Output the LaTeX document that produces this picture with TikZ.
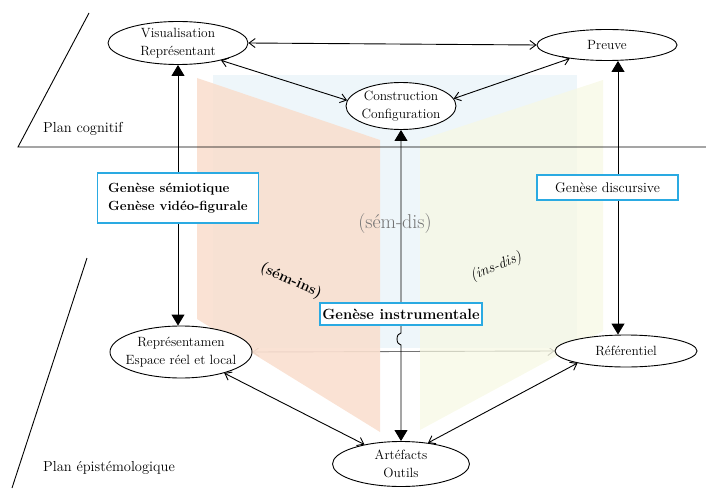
\documentclass[tikz,border=0pt]{standalone}
\usepackage{xcolor}
\definecolor{peach}{HTML}{F9DFCF}
\definecolor{paleblue}{HTML}{EEF6FA}
\definecolor{paleyellow}{HTML}{F7F8E2}
\definecolor{boxcyan}{HTML}{2AAAE2}
\usetikzlibrary{arrows.meta,shapes.geometric,backgrounds}

\begin{document}
\begin{tikzpicture}[x=1pt, y=1pt,
    every node/.style={font=\fontsize{13.4}{17.5}\selectfont},
    pole/.style={draw, ellipse, fill=white, line width=0.9pt, align=center,
                 inner sep=0pt},
    genese/.style={draw=boxcyan, fill=white, line width=1.4pt, inner sep=0pt},
    plan/.style={font=\fontsize{14.5}{17}\selectfont, anchor=west, inner sep=0pt},
    dbl/.style={{Straight Barb[length=6pt,width=9pt]}-{Straight Barb[length=6pt,width=9pt]},
                line width=0.9pt},
    faint/.style={dbl, draw=black!55},
    tri/.style={{Triangle[length=11pt,width=13pt]}-{Triangle[length=11pt,width=13pt]},
                line width=0.9pt}]
  \useasboundingbox (0,0) rectangle (706,488);
  % plans
  \draw[line width=0.9pt] (89,475) -- (18,341) -- (706,341);
  \draw[line width=0.9pt] (87,230) -- (12,0);
  \node[plan] (cog) at (43,359) {Plan cognitif};
  \node[plan] (epi) at (43,20) {Plan épistémologique};
  % poles
  \node[pole, minimum width=140pt, minimum height=43pt] (vis) at (178,445) {Visualisation\\Représentant};
  \node[pole, minimum width=110pt, minimum height=47pt, inner xsep=-4pt] (cons) at (401,382) {Construction\\Configuration};
  \node[pole, minimum width=140pt, minimum height=31pt] (preuve) at (607,443) {Preuve};
  \node[pole, minimum width=142pt, minimum height=52pt, inner xsep=-8pt] (rep) at (181,136) {Représentamen\\Espace réel et local};
  \node[pole, minimum width=142pt, minimum height=32pt] (ref) at (626,137) {Référentiel};
  \node[pole, minimum width=137pt, minimum height=45pt] (art) at (401,24) {Artéfacts\\Outils};
  \coordinate (xr) at (618,0);
  \coordinate (hop) at (401,143);
  \draw[dbl] (vis.east) -- (preuve.west);
  \draw[dbl] (vis.-22) -- (cons.174);
  \draw[dbl] (cons.8) -- (preuve.200);
  \draw[dbl] (rep.-26) -- (art.152);
  \draw[dbl] (art.38) -- (ref.194);
  \draw[tri] (rep.north -| vis.south) -- (vis.south);
  \draw[tri] (ref.north -| xr) -- (preuve.south -| xr);
  \draw[tri] (art.north) -- (hop) arc[start angle=-90, end angle=-270, x radius=4, y radius=6] -- (cons.south);
  % geneses
  \node[genese, minimum width=161pt, minimum height=50pt, align=left,
        font=\bfseries\fontsize{13.3}{17.5}\selectfont] (sem) at (178,290) {Genèse sémiotique\\Genèse vidéo-figurale};
  \node[genese, minimum width=162pt, minimum height=22pt,
        font=\bfseries\fontsize{14.8}{17}\selectfont] (ins) at (401,174) {Genèse instrumentale};
  \node[genese, minimum width=141pt, minimum height=25pt,
        font=\fontsize{14}{17}\selectfont] (dis) at (607.5,300.5) {Genèse discursive};
  \node[font=\fontsize{20}{23}\selectfont, text=black!55] (semdis) at (395,264) {(sém-dis)};
  \node[font=\bfseries\fontsize{14.5}{17}\selectfont, rotate=-24] (semins) at (291,207) {(sém-ins)};
  \node[font=\itshape\fontsize{15}{17}\selectfont, rotate=22] (insdis) at (496,221) {(ins-dis)};
  % panneaux
  \begin{scope}[on background layer]
    \draw[faint] (rep.east) -- (ref.west);
    \fill[paleblue] (213,413) rectangle (577,140);
    \fill[peach, fill opacity=0.9] (197,410) -- (380,348) -- (380,56) -- (197,169) -- cycle;
    \fill[paleyellow, fill opacity=0.7] (420,348) -- (603,408) -- (603,157) -- (420,58) -- cycle;
  \end{scope}
\end{tikzpicture}
\end{document}
